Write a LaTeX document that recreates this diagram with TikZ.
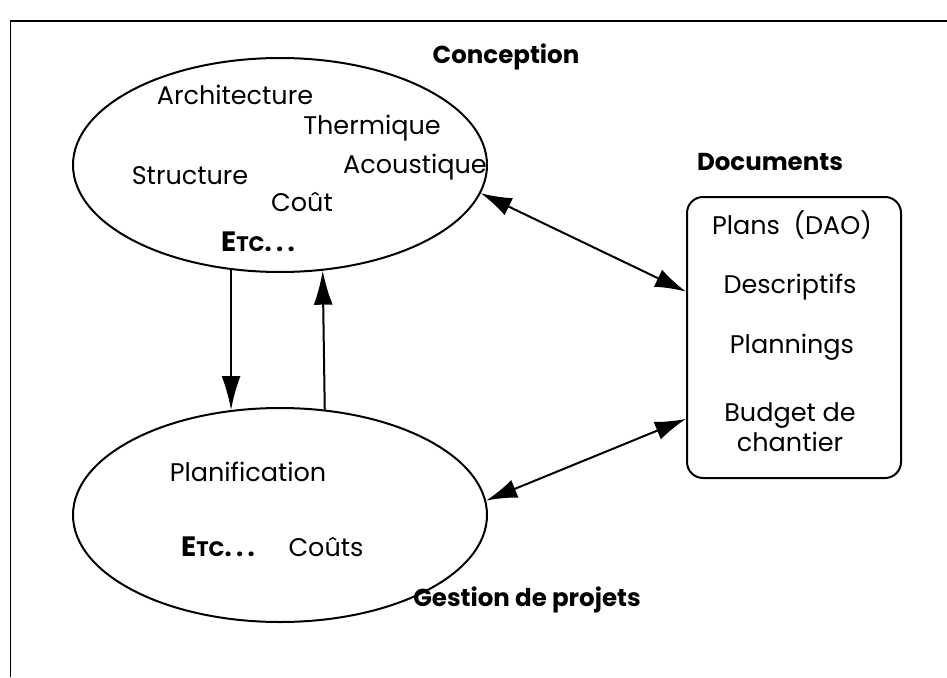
\documentclass[tikz,border=0pt]{standalone}
\usepackage{fontspec}
\setmainfont{Poppins}
\usetikzlibrary{shapes.geometric,arrows.meta}
\tikzset{
	bulle/.style={draw, ellipse, line width=2pt, minimum width=414pt, minimum height=214pt, inner sep=0pt},
	mot/.style={font=\fontsize{25.5}{30}\selectfont, inner sep=0pt, align=center},
	titre/.style={font=\fontsize{24.5}{29}\selectfont\bfseries, inner sep=0pt},
	fleche/.style={line width=2pt, -{Latex[length=34pt,width=19pt]}},
	double fleche/.style={line width=2pt, {Latex[length=31pt,width=19pt]}-{Latex[length=31pt,width=19pt]}}
}
\newcommand{\etcsc}{\bfseries{\fontsize{28}{28}\selectfont E}{\fontsize{21}{21}\selectfont TC}.\,.\,.}
\begin{document}
\begin{tikzpicture}[x=1pt, y=-1pt]
		\useasboundingbox (0, 0) rectangle (947, 677);

		% cadre
		\draw[line width=1pt] (10, 677) -- (10, 21);
		\draw[line width=2.2pt] (10, 21) -- (947, 21);

		% conception
		\node[bulle] (concept) at (280, 165) {};
		\node[titre] (conceptT) at (506, 57) {Conception};
		\node[mot] (archi) at (235, 95) {Architecture};
		\node[mot] (thermi) at (372, 128) {Thermique};
		\node[mot] (struct) at (190, 176) {Structure};
		\node[mot] (acoust) at (415, 167) {Acoustique};
		\node[mot] (cout) at (302, 202) {Coût};
		\node[mot] (etcA) at (258, 242) {\etcsc};

		% gestion de projets
		\node[bulle] (gestion) at (280, 515) {};
		\node[titre] (gestionT) at (527, 600) {Gestion de projets};
		\node[mot] (planif) at (248, 472) {Planification};
		\node[mot] (etcB) at (218, 547) {\etcsc};
		\node[mot] (couts) at (326, 547) {Coûts};

		% documents
		\node[draw, line width=2pt, rounded corners=16pt, minimum width=214pt, minimum height=281pt] (docs) at (794, 337.5) {};
		\node[titre] (docsT) at (770, 162) {Documents};
		\node[mot] (plans) at (792, 225) {Plans~~(DAO)};
		\node[mot] (descr) at (790, 287) {Descriptifs};
		\node[mot] (plann) at (792, 347) {Plannings};
		\node[mot] (budget) at (790, 427) {Budget de\\chantier};

		\draw[fleche] (concept.245) -- (gestion.115.5);
		\draw[fleche] (gestion.67.6) -- (concept.292.8);
		\draw[double fleche] (concept.-8) -- (docs.157);
		\draw[double fleche] (gestion.4) -- (docs.217.6);
	\end{tikzpicture}
\end{document}
